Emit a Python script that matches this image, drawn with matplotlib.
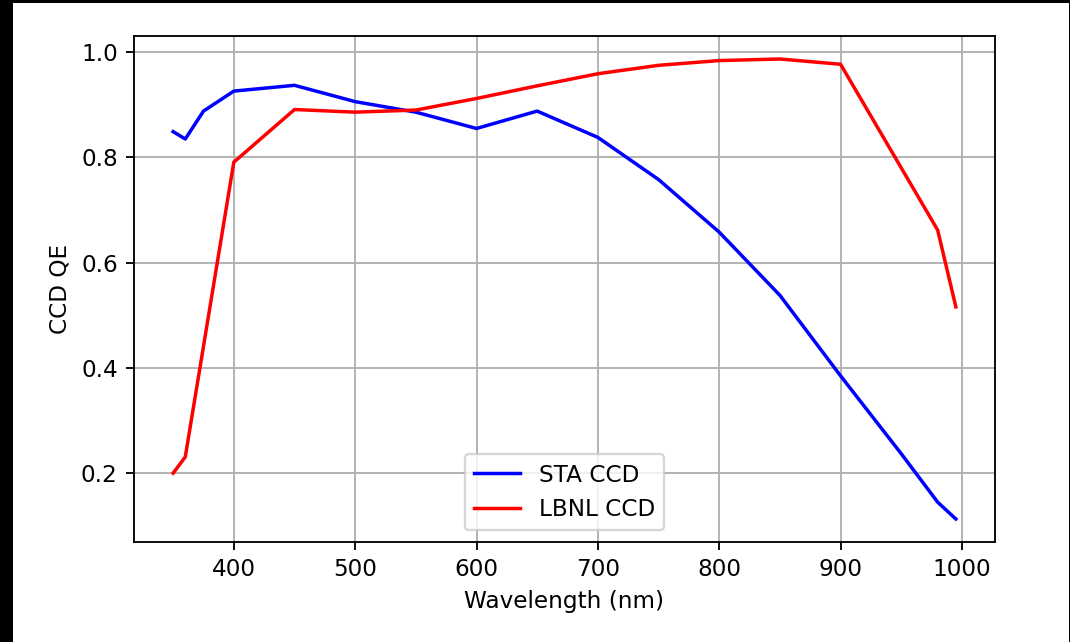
import matplotlib
matplotlib.use("Agg")
import matplotlib.pyplot as plt
from matplotlib.patches import Rectangle

# STA CCD
sta_wl = [350, 360, 375, 400, 450, 500, 550, 600, 650, 700, 750, 800, 850, 900, 950, 980, 995]
sta_qe = [0.849, 0.835, 0.888, 0.926, 0.937, 0.906, 0.886, 0.855, 0.888, 0.838, 0.758, 0.658, 0.538, 0.385, 0.237, 0.145, 0.113]

# LBNL CCD
lbnl_wl = [350, 360, 400, 450, 500, 550, 600, 650, 700, 750, 800, 850, 900, 980, 995]
lbnl_qe = [0.200, 0.231, 0.791, 0.891, 0.886, 0.890, 0.912, 0.936, 0.959, 0.975, 0.984, 0.987, 0.977, 0.662, 0.516]

W, H = 1070, 642
dpi = 166.67
fig = plt.figure(figsize=(W / dpi, H / dpi), dpi=dpi)
ax = fig.add_axes([134 / W, 1 - 542 / H, (995 - 134) / W, (542 - 36) / H])

ax.plot(sta_wl, sta_qe, color="blue", label="STA CCD")
ax.plot(lbnl_wl, lbnl_qe, color="red", label="LBNL CCD")
ax.set_xlabel("Wavelength (nm)")
ax.set_ylabel("CCD QE")
ax.grid(True)
ax.legend(loc="lower center")

# black screenshot border
kw = dict(transform=fig.transFigure, facecolor="black", edgecolor="none",
          linewidth=0, antialiased=False, zorder=10)
fig.add_artist(Rectangle((0, 0), 13 / W, 1, **kw))
fig.add_artist(Rectangle((0, 1 - 3 / H), 1, 3 / H, **kw))
fig.add_artist(Rectangle((1 - 1.5 / W, 0), 1.5 / W, 1, **kw))

fig.savefig("out.png", dpi=dpi)
